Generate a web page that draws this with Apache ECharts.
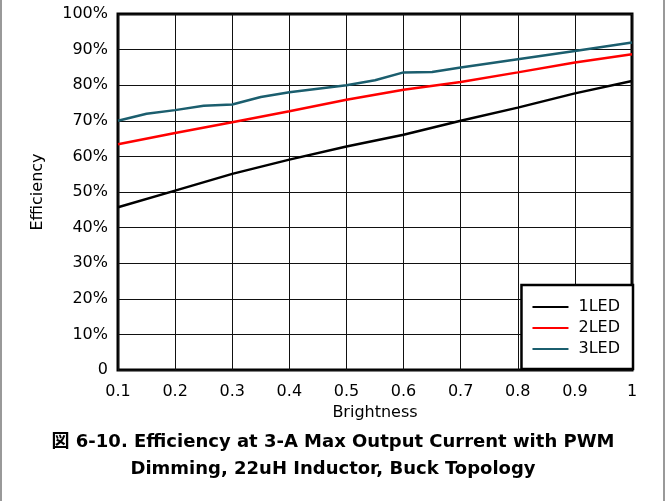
<!DOCTYPE html>
<html lang="en">
<head>
  <meta charset="UTF-8" />
  <title>Efficiency vs Brightness</title>
  <script src="https://cdn.jsdelivr.net/npm/echarts@6/dist/echarts.min.js"></script>
  <style>
    body { margin: 0; background: #fff; }
    #chart { position: absolute; left: 0; top: 0; width: 666px; height: 501px; }
    .edge { position: absolute; top: 0; width: 2px; height: 501px; background: #999; }
  </style>
</head>
<body>
  <div id="chart"></div>
  <div class="edge" style="left: 0;"></div>
  <div class="edge" style="left: 663px;"></div>
  <script>
    var FONT = '"DejaVu Sans", "Noto Sans CJK JP", sans-serif';

    // brightness points, 1LED / 2LED share these
    var xs = [0.1, 0.2, 0.3, 0.4, 0.5, 0.6, 0.7, 0.8, 0.9, 1.0];
    var led1 = [45.7, 50.4, 55.1, 59.1, 62.8, 66.1, 70.0, 73.7, 77.7, 81.2];
    var led2 = [63.4, 66.6, 69.6, 72.7, 75.9, 78.7, 80.9, 83.6, 86.4, 88.7];
    // 3LED was measured on a finer step
    var xs3 = [0.1, 0.15, 0.2, 0.25, 0.3, 0.35, 0.4, 0.45, 0.5, 0.55, 0.6, 0.65, 0.7, 0.8, 0.9, 1.0];
    var led3 = [70.0, 72.0, 73.0, 74.2, 74.6, 76.7, 78.0, 79.0, 80.0, 81.4, 83.6, 83.7, 85.0, 87.3, 89.6, 92.0];

    var seriesNames = ["1LED", "2LED", "3LED"];
    var colors = ["#000000", "#ff0000", "#1b5e6e"];

    function pairs(x, y) {
      return x.map(function(v, i) { return [v, y[i]]; });
    }

    var chart = echarts.init(document.getElementById("chart"));
    chart.setOption({
      animation: false,
      title: {
        text: "図 6-10. Efficiency at 3-A Max Output Current with PWM\nDimming, 22uH Inductor, Buck Topology",
        left: 328,
        top: 424,
        textAlign: "center",
        textStyle: { fontFamily: FONT, fontSize: 18, fontWeight: "bold", color: "#000", lineHeight: 27 }
      },
      grid: {
        left: 118, right: 34, top: 14, bottom: 131,
        show: true, borderColor: "#000", borderWidth: 3, backgroundColor: "#fff"
      },
      legend: {
        data: seriesNames,
        orient: "vertical",
        right: 33,
        top: 285,
        backgroundColor: "#fff",
        borderColor: "#000",
        borderWidth: 2.5,
        borderRadius: 0,
        padding: [14, 13, 12, 11],
        itemGap: 5,
        itemWidth: 36,
        itemHeight: 16,
        icon: "path://M0,7 L36,7 L36,9 L0,9 Z",
        textStyle: { fontFamily: FONT, fontSize: 16, color: "#000", padding: [0, 0, 0, 5] }
      },
      xAxis: {
        type: "value",
        min: 0.1,
        max: 1,
        interval: 0.1,
        name: "Brightness",
        nameLocation: "middle",
        nameGap: 35,
        nameTextStyle: { fontFamily: FONT, fontSize: 16, color: "#000" },
        axisLine: { show: false },
        axisTick: { show: false },
        axisLabel: {
          margin: 14, fontFamily: FONT, fontSize: 16, color: "#000",
          formatter: function(v) { return String(Math.round(v * 10) / 10); }
        },
        splitLine: { show: true, lineStyle: { color: "#111", width: 1 } }
      },
      yAxis: {
        type: "value",
        min: 0,
        max: 100,
        interval: 10,
        name: "Efficiency",
        nameLocation: "middle",
        nameGap: 72,
        nameTextStyle: { fontFamily: FONT, fontSize: 16, color: "#000" },
        axisLine: { show: false },
        axisTick: { show: false },
        axisLabel: {
          margin: 10, fontFamily: FONT, fontSize: 16, color: "#000",
          formatter: function(v) { return v === 0 ? "0" : v + "%"; }
        },
        splitLine: { show: true, lineStyle: { color: "#111", width: 1 } }
      },
      series: [
        { name: seriesNames[0], type: "line", data: pairs(xs, led1) },
        { name: seriesNames[1], type: "line", data: pairs(xs, led2) },
        { name: seriesNames[2], type: "line", data: pairs(xs3, led3) }
      ].map(function(s, i) {
        s.showSymbol = false;
        s.symbol = "none";
        s.color = colors[i];
        s.lineStyle = { color: colors[i], width: 2.5 };
        s.z = 3 + i;
        return s;
      })
    });
  </script>
</body>
</html>
